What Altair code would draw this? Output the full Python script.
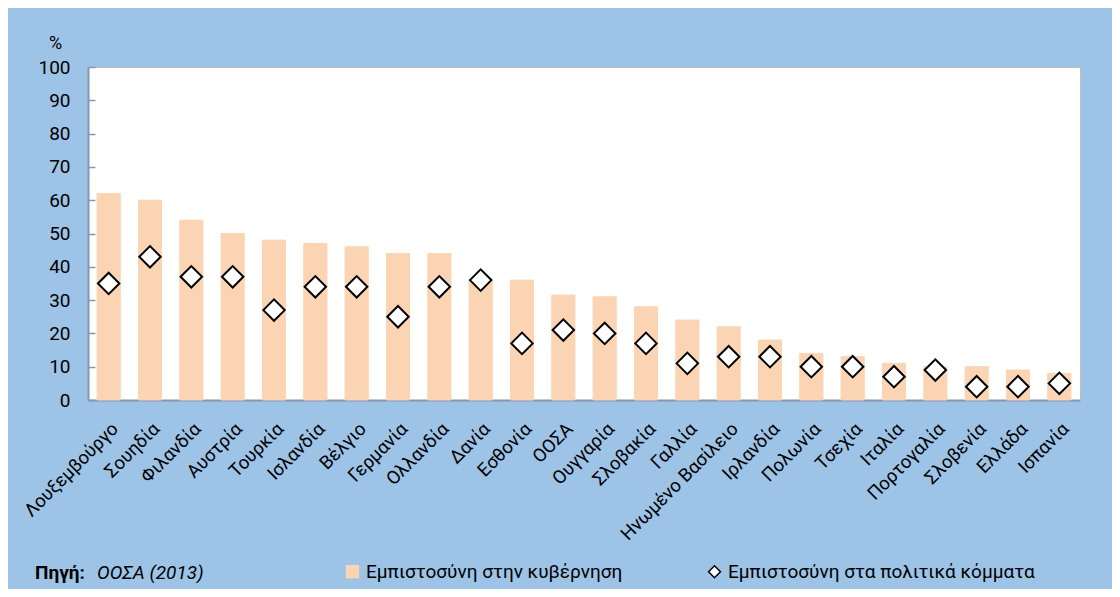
import altair as alt
import pandas as pd

countries = ["Λουξεμβούργο", "Σουηδία", "Φιλανδία", "Αυστρία", "Τουρκία", "Ισλανδία",
             "Βέλγιο", "Γερμανία", "Ολλανδία", "Δανία", "Εσθονία", "ΟΟΣΑ", "Ουγγαρία",
             "Σλοβακία", "Γαλλία", "Ηνωμένο Βασίλειο", "Ιρλανδία", "Πολωνία", "Τσεχία",
             "Ιταλία", "Πορτογαλία", "Σλοβενία", "Ελλάδα", "Ισπανία"]
trust_gov = [62, 60, 54, 50, 48, 47, 46, 44, 44, 36, 36, 31.5, 31, 28, 24, 22, 18, 14, 13, 11, 10, 10, 9, 8]
trust_parties = [35, 43, 37, 37, 27, 34, 34, 25, 34, 36, 17, 21, 20, 17, 11, 13, 13, 10, 10, 7, 9, 4, 4, 5]
series_names = ["Εμπιστοσύνη στην κυβέρνηση", "Εμπιστοσύνη στα πολιτικά κόμματα"]
y_ticks = [0, 10, 20, 30, 40, 50, 60, 70, 80, 90, 100]

rows = []
for c, g, p in zip(countries, trust_gov, trust_parties):
    rows.append({"country": c, "series": series_names[0], "value": g})
    rows.append({"country": c, "series": series_names[1], "value": p})
df = pd.DataFrame(rows)

FONT = "Roboto"
BAR = "#FBD4B4"
AXIS_COL = "#8497B0"

x_enc = alt.X("country:N", sort=countries, title=None,
              scale=alt.Scale(paddingInner=0.44, paddingOuter=0.22),
              axis=alt.Axis(labelAngle=-45, labelFontSize=18.5, labelFont=FONT, labelColor="#000000",
                            ticks=False, domainColor=AXIS_COL, domainWidth=2, labelPadding=19,
                            labelLimit=300))
y_scale = alt.Scale(domain=[0, 100])
y_enc = alt.Y("value:Q", scale=y_scale,
              axis=alt.Axis(values=y_ticks, title="%", titleAngle=0, titleX=-33, titleY=-24,
                            titleAlign="center", titleBaseline="middle", titleFontWeight="normal",
                            titleFontSize=18, titleFont=FONT, titleColor="#000000",
                            labelFontSize=19, labelFont=FONT, labelColor="#000000",
                            ticks=False, labelPadding=18, grid=False,
                            domainColor=AXIS_COL, domainWidth=2))

fill_scale = alt.Scale(domain=series_names, range=[BAR, "#FFFFFF"])
stroke_scale = alt.Scale(domain=series_names, range=[BAR, "#000000"])
shape_scale = alt.Scale(domain=series_names, range=["square", "diamond"])

legend = alt.Legend(orient="none", legendX=255, legendY=495, direction="horizontal",
                    title=None, labelFont=FONT, labelFontSize=19, labelColor="#000000",
                    symbolSize=140, symbolStrokeWidth=1.5, columnPadding=82, labelLimit=400,
                    labelOffset=4)

bars = alt.Chart(df).transform_filter(
    alt.datum.series == series_names[0]
).mark_bar().encode(
    x=x_enc, y=y_enc,
    fill=alt.Fill("series:N", scale=fill_scale, legend=legend),
    stroke=alt.Stroke("series:N", scale=stroke_scale, legend=legend),
)

points = alt.Chart(df).transform_filter(
    alt.datum.series == series_names[1]
).mark_point(filled=False, size=460, strokeWidth=2, opacity=1).encode(
    x=x_enc, y=y_enc,
    fill=alt.Fill("series:N", scale=fill_scale, legend=legend),
    stroke=alt.Stroke("series:N", scale=stroke_scale, legend=legend),
    shape=alt.Shape("series:N", scale=shape_scale, legend=legend),
)

src1 = alt.Chart(pd.DataFrame({"t": ["Πηγή:"]})).mark_text(
    align="left", baseline="middle", font=FONT, fontSize=19, fontWeight="bold", color="#000000"
).encode(text="t:N", x=alt.value(-53), y=alt.value(506))
src2 = alt.Chart(pd.DataFrame({"t": ["ΟΟΣΑ (2013)"]})).mark_text(
    align="left", baseline="middle", font=FONT, fontSize=19, fontStyle="italic", color="#000000"
).encode(text="t:N", x=alt.value(9), y=alt.value(506))

main = alt.layer(bars, points, src1, src2)

# inward tick marks on the value axis (second axis shifted into the plot)
tick_layer = alt.Chart(pd.DataFrame({"value": y_ticks})).mark_point(opacity=0).encode(
    y=alt.Y("value:Q", scale=y_scale,
            axis=alt.Axis(orient="left", values=y_ticks, labels=False, domain=False, title=None,
                          ticks=True, tickSize=7, tickColor=AXIS_COL, tickWidth=1.5, offset=-7,
                          grid=False))
)

chart = alt.layer(main, tick_layer).resolve_axis(y="independent").properties(
    width=992, height=333,
    background="#9DC3E6",
    padding={"left": 80, "top": 59, "right": 32, "bottom": 189},
    autosize=alt.AutoSizeParams(type="none"),
).configure_view(stroke="#BFBFBF", strokeWidth=1, fill="#FFFFFF")

chart.save("out.html", embed_options={"renderer": "svg", "actions": False})
